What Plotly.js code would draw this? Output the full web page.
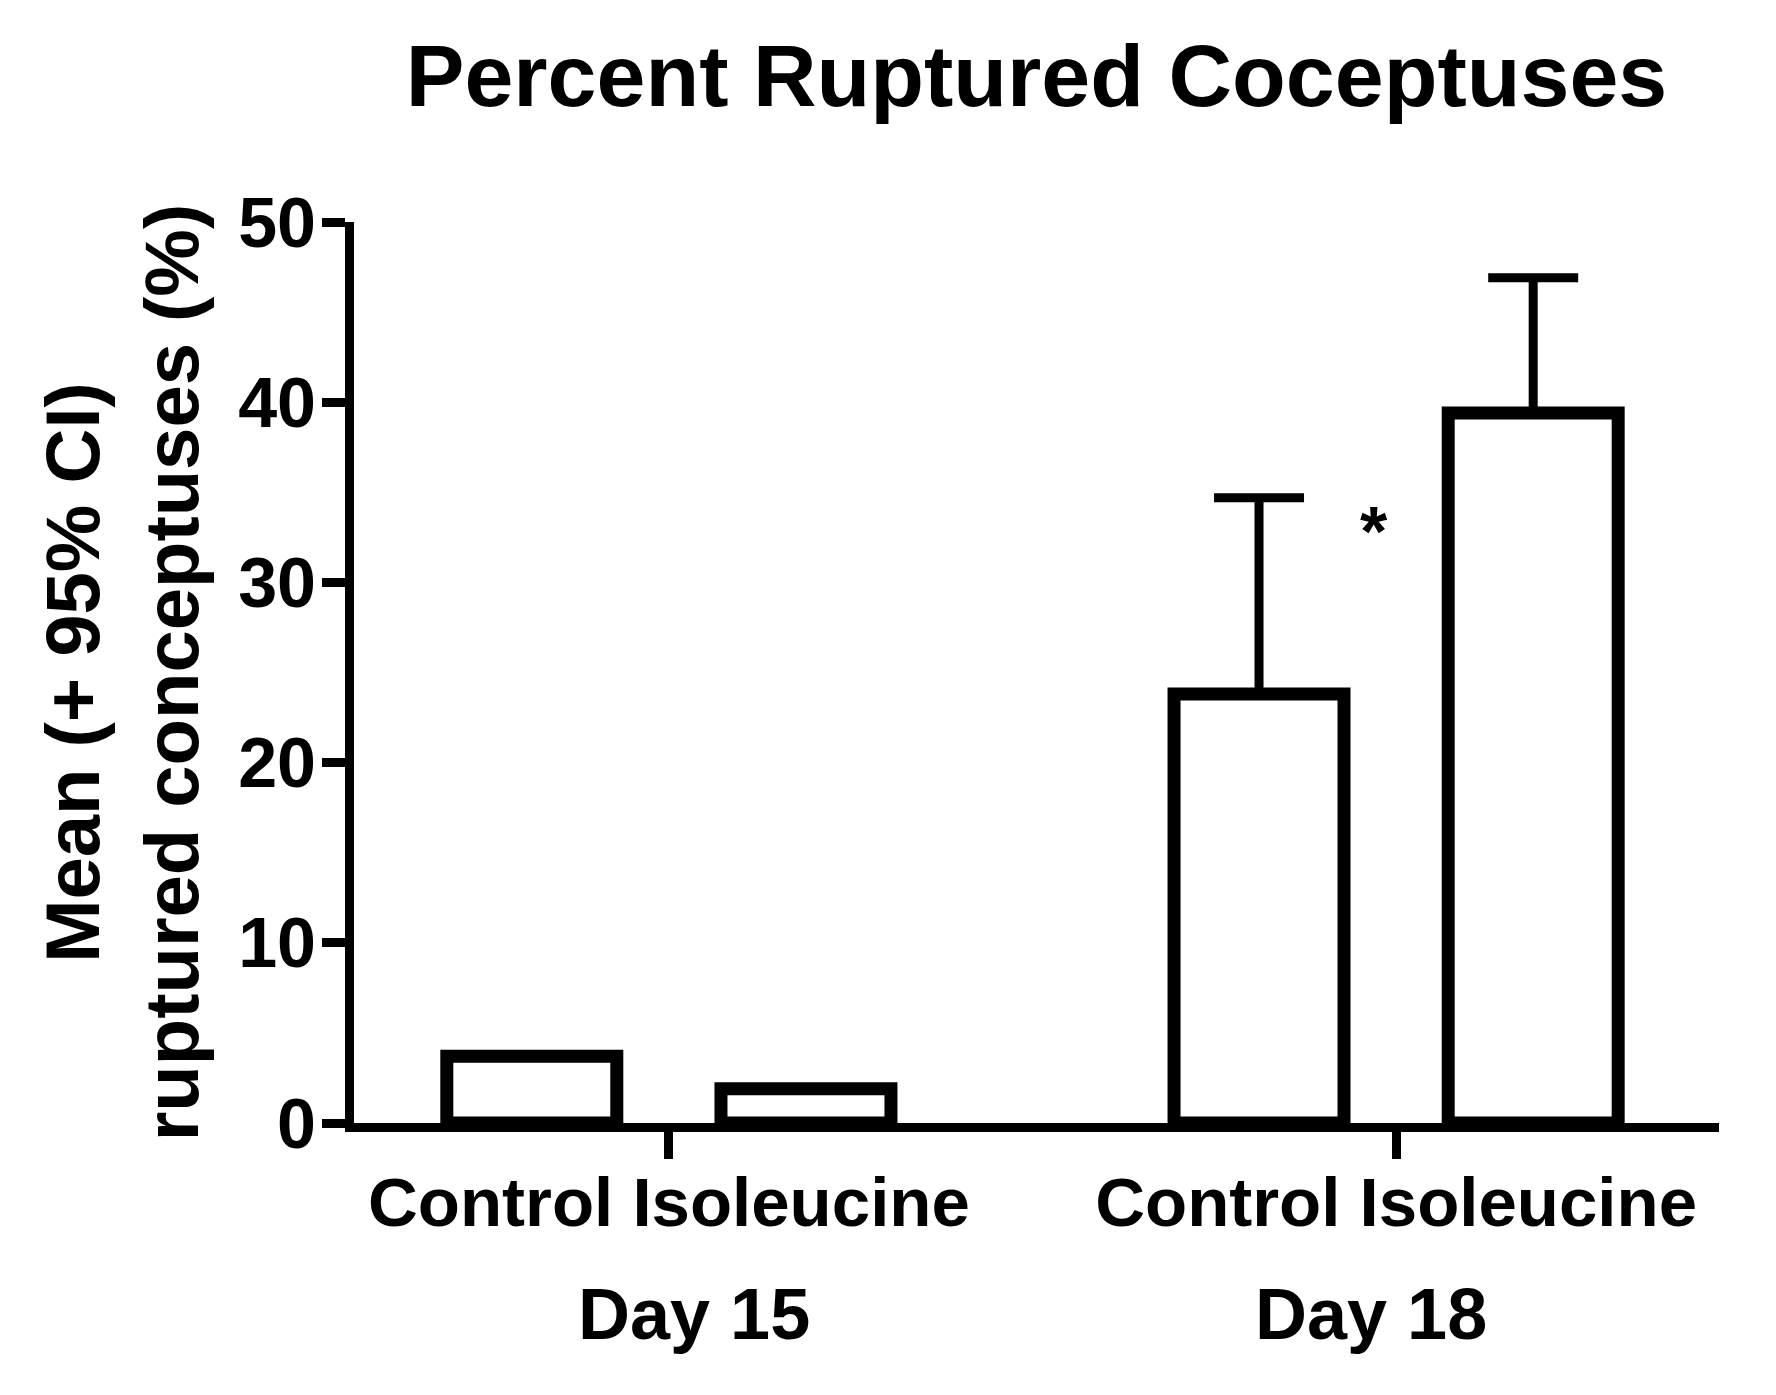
<!DOCTYPE html>
<html>
<head>
<meta charset="utf-8">
<script src="https://cdn.plot.ly/plotly-3.0.1.min.js"></script>
<style>
  html, body { margin: 0; padding: 0; background: #fff; }
  #chart { width: 1776px; height: 1395px; }
</style>
</head>
<body>
<div id="chart"></div>
<script>
// ---- data ----
const days = ["Day 15", "Day 18"];
const treatments = ["Control", "Isoleucine"];
const controlMean = [3.7, 23.8];
const controlUpperCI = [null, 34.7];
const isoleucineMean = [1.9, 39.4];
const isoleucineUpperCI = [null, 46.9];
const yTickVals = [0, 10, 20, 30, 40, 50];
const significanceMark = "*";

const FONT = "Liberation Sans, Arial, Helvetica, sans-serif";

function upperErr(mean, upper) {
  return mean.map((m, i) => (upper[i] == null ? null : upper[i] - m));
}

function barTrace(name, mean, upper) {
  return {
    type: "bar",
    name: name,
    x: days,
    y: mean,
    marker: { color: "#ffffff", line: { color: "#000000", width: 13 } },
    error_y: {
      type: "data",
      symmetric: false,
      array: upperErr(mean, upper),
      arrayminus: mean.map(() => 0),
      color: "#000000",
      thickness: 9,
      width: 45
    },
    hoverinfo: "skip"
  };
}

const data = [
  barTrace(treatments[0], controlMean, controlUpperCI),
  barTrace(treatments[1], isoleucineMean, isoleucineUpperCI)
];

const layout = {
  width: 1776,
  height: 1395,
  paper_bgcolor: "#ffffff",
  plot_bgcolor: "#ffffff",
  showlegend: false,
  barmode: "group",
  bargap: 0.246,
  bargroupgap: 0.38,
  font: { family: FONT, color: "#000000", size: 70, weight: 700 },
  margin: { l: 354, r: 57, t: 222, b: 272, pad: 0 },
  title: {
    text: "Percent Ruptured Coceptuses",
    font: { family: FONT, size: 88, color: "#000000", weight: 700 },
    xref: "paper", x: 0.5, xanchor: "center",
    yref: "container", y: 1 - 75 / 1395, yanchor: "middle"
  },
  xaxis: {
    type: "category",
    range: [-0.433, 1.444],
    tickmode: "array",
    tickvals: days,
    ticktext: days.map(() => treatments.join(" ")),
    ticks: "outside",
    ticklen: 27,
    tickwidth: 9,
    tickcolor: "#000000",
    showline: true,
    linewidth: 9,
    linecolor: "#000000",
    showgrid: false,
    zeroline: false,
    tickfont: { family: FONT, size: 69, color: "#000000", weight: 700 },
    ticklabelstandoff: -16,
    fixedrange: true
  },
  yaxis: {
    range: [0, 50],
    tickmode: "array",
    tickvals: yTickVals,
    ticktext: yTickVals.map(String),
    ticks: "outside",
    ticklen: 23,
    tickwidth: 9,
    tickcolor: "#000000",
    showline: true,
    linewidth: 9,
    linecolor: "#000000",
    showgrid: false,
    zeroline: false,
    tickfont: { family: FONT, size: 70, color: "#000000", weight: 700 },
    ticklabelstandoff: -8,
    title: {
      text: "Mean (+ 95% CI)<br>ruptured conceptuses (%)",
      font: { family: FONT, size: 76, color: "#000000", weight: 700 },
      standoff: 18
    },
    automargin: false,
    fixedrange: true
  },
  annotations: [
    {
      text: days[0], xref: "x", yref: "paper", x: 0.034, y: -0.212,
      xanchor: "center", yanchor: "middle", showarrow: false,
      font: { family: FONT, size: 72, color: "#000000", weight: 700 }
    },
    {
      text: days[1], xref: "x", yref: "paper", x: 0.966, y: -0.212,
      xanchor: "center", yanchor: "middle", showarrow: false,
      font: { family: FONT, size: 72, color: "#000000", weight: 700 }
    },
    {
      text: significanceMark, xref: "x", yref: "y", x: 0.97, y: 32.8,
      xanchor: "center", yanchor: "middle", showarrow: false,
      font: { family: FONT, size: 70, color: "#000000", weight: 700 }
    }
  ]
};

Plotly.newPlot("chart", data, layout, { staticPlot: true, displayModeBar: false });
</script>
</body>
</html>
